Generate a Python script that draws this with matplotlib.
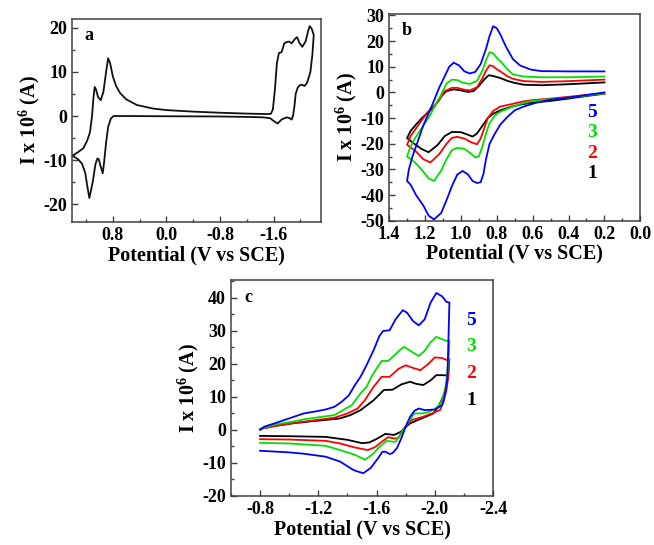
import matplotlib
matplotlib.use("Agg")
import matplotlib.pyplot as plt
from matplotlib.ticker import MultipleLocator

plt.rcParams['font.family'] = ['Liberation Serif', 'DejaVu Serif']
plt.rcParams['font.weight'] = 'bold'
plt.rcParams['axes.unicode_minus'] = False
plt.rcParams['mathtext.fontset'] = 'custom'
plt.rcParams['mathtext.rm'] = 'Liberation Serif:bold'
plt.rcParams['mathtext.it'] = 'Liberation Serif:bold'
plt.rcParams['mathtext.bf'] = 'Liberation Serif:bold'

# ---- panel a: single CV loop ----
a_pot = [1.40, 1.32, 1.24, 1.18, 1.14, 1.11, 1.09, 1.07, 1.05, 1.02, 0.98, 0.94, 0.90, 0.87,
         0.84, 0.80, 0.75, 0.69, 0.60, 0.44, 0.20, 0.0, -0.4, -0.8, -1.2, -1.5, -1.56, -1.59,
         -1.62, -1.65, -1.68, -1.72, -1.76, -1.80, -1.83, -1.87, -1.92, -1.95, -1.99, -2.03,
         -2.08, -2.12, -2.14, -2.17, -2.20,
         -2.18, -2.15, -2.10, -2.06, -2.03, -1.99, -1.96, -1.93, -1.91, -1.89, -1.87, -1.84,
         -1.80, -1.76, -1.72, -1.66, -1.60, -1.55, -1.45, -1.2, -0.8, 0.0, 0.6, 0.79, 0.83,
         0.87, 0.90, 0.93, 0.95, 0.98, 1.01, 1.03, 1.06, 1.10, 1.15, 1.18, 1.21, 1.26, 1.32, 1.40]
a_cur = [-9.0, -8.2, -7.3, -5.5, -3.6, 0.0, 4.0, 6.6, 6.0, 4.3, 3.6, 5.5, 10.0, 13.1,
         12.0, 9.0, 6.8, 5.2, 3.8, 2.5, 1.7, 1.35, 1.0, 0.75, 0.55, 0.45, 0.5, 1.5,
         6.0, 12.0, 14.3, 14.5, 16.5, 16.8, 16.9, 16.5, 17.5, 17.9, 16.5, 15.7,
         17.0, 19.5, 20.4, 19.8, 18.4,
         14.0, 10.0, 7.5, 6.8, 7.1, 7.0, 6.4, 5.0, 2.0, 0.0, -0.8, -0.5,
         -0.3, -0.5, -0.8, -1.7, -1.1, -0.5, -0.3, -0.2, -0.1, -0.05, 0.0, 0.0, -0.6,
         -2.5, -6.0, -10.5, -13.0, -11.5, -9.8, -9.6, -11.0, -15.0, -18.6, -16.0, -13.0, -10.8, -9.8, -9.0]

# ---- panel b: four CVs (labels 5, 3, 2, 1) ----
b_pot_5 = [0.20, 0.30, 0.40, 0.50, 0.58, 0.65, 0.70, 0.74, 0.78, 0.81, 0.84, 0.86, 0.875, 0.89,
           0.91, 0.935, 0.96, 0.99, 1.02, 1.05, 1.08, 1.11, 1.15, 1.18, 1.21, 1.25, 1.28, 1.30,
           1.29, 1.27, 1.24, 1.21, 1.17, 1.14, 1.12, 1.09, 1.065, 1.04, 1.01, 0.98, 0.95, 0.92,
           0.89, 0.86, 0.84, 0.82, 0.80, 0.78, 0.75, 0.71, 0.67, 0.61, 0.55, 0.40, 0.20]
b_cur_5 = [0.0, -1.0, -2.0, -2.8, -4.0, -5.5, -7.0, -9.5, -12.5, -16.0, -20.0, -26.0, -32.0, -35.0,
           -35.3, -34.5, -32.0, -30.6, -32.0, -36.5, -42.0, -47.0, -49.5, -48.0, -44.0, -40.0, -36.0, -34.5,
           -30.0, -25.0, -19.0, -13.0, -6.5, -1.5, 2.0, 6.3, 10.0, 11.6, 10.5, 8.2, 7.4, 8.0,
           11.0, 17.0, 22.0, 25.8, 25.0, 22.6, 18.0, 13.0, 10.5, 8.9, 8.3, 8.2, 8.2]
b_pot_3 = [0.20, 0.30, 0.40, 0.50, 0.60, 0.66, 0.72, 0.78, 0.81, 0.84, 0.86, 0.88, 0.90, 0.92,
           0.95, 0.98, 1.02, 1.05, 1.08, 1.11, 1.15, 1.18, 1.22, 1.26, 1.30,
           1.28, 1.255, 1.21, 1.17, 1.14, 1.11, 1.08, 1.05, 1.02, 0.99, 0.95, 0.91, 0.88, 0.86,
           0.84, 0.82, 0.80, 0.78, 0.74, 0.71, 0.65, 0.55, 0.40, 0.20]
b_cur_3 = [-0.3, -1.2, -2.0, -2.6, -3.3, -4.3, -5.8, -7.5, -9.0, -12.0, -16.0, -21.0, -25.0, -25.3,
           -23.5, -22.0, -21.6, -22.5, -26.0, -30.5, -34.5, -33.5, -30.0, -27.0, -25.0,
           -21.0, -17.8, -13.0, -8.7, -4.5, -0.9, 3.5, 5.0, 4.8, 3.8, 3.3, 4.5, 8.5, 12.5,
           15.7, 15.2, 13.5, 12.2, 9.0, 7.0, 6.2, 5.9, 5.9, 6.2]
b_pot_2 = [0.20, 0.30, 0.40, 0.50, 0.60, 0.66, 0.72, 0.78, 0.82, 0.85, 0.87, 0.89, 0.91, 0.94,
           0.98, 1.02, 1.05, 1.08, 1.12, 1.17, 1.21, 1.25, 1.30,
           1.28, 1.25, 1.21, 1.17, 1.125, 1.09, 1.05, 1.02, 0.98, 0.95, 0.91, 0.88, 0.86, 0.84,
           0.82, 0.80, 0.78, 0.74, 0.71, 0.65, 0.55, 0.40, 0.20]
b_cur_2 = [-0.4, -1.0, -1.7, -2.4, -3.0, -3.6, -4.6, -5.5, -7.2, -10.0, -14.0, -18.0, -20.2, -19.5,
           -18.0, -17.3, -17.7, -20.0, -24.0, -27.3, -26.0, -23.0, -20.4,
           -17.0, -14.0, -10.0, -6.5, -3.5, 0.5, 1.8, 1.8, 1.0, 0.8, 2.0, 5.5, 8.5, 10.6,
           10.2, 9.0, 8.2, 6.3, 5.3, 4.4, 4.1, 4.4, 5.0]
b_pot_1 = [0.20, 0.30, 0.40, 0.50, 0.60, 0.66, 0.72, 0.78, 0.82, 0.85, 0.88, 0.91, 0.935, 0.96,
           1.00, 1.05, 1.09, 1.13, 1.18, 1.22, 1.26, 1.30,
           1.28, 1.25, 1.22, 1.18, 1.15, 1.11, 1.08, 1.04, 1.00, 0.96, 0.93, 0.90, 0.87, 0.845,
           0.82, 0.78, 0.74, 0.70, 0.65, 0.55, 0.40, 0.20]
b_cur_1 = [-0.5, -1.4, -2.4, -3.3, -4.0, -4.6, -5.6, -7.0, -8.3, -10.0, -13.0, -16.0, -17.2, -16.5,
           -15.5, -15.4, -17.0, -20.5, -23.3, -22.0, -20.0, -17.8,
           -15.0, -12.5, -10.2, -7.5, -5.8, -1.5, 0.5, 1.2, 0.8, 0.2, 0.5, 2.5, 5.0, 6.7,
           6.4, 5.6, 4.5, 3.7, 3.0, 2.8, 3.2, 3.9]

# ---- panel c: four CVs (labels 5, 3, 2, 1) ----
c_pot_5 = [-0.80, -0.83, -0.90, -1.00, -1.10, -1.18, -1.25, -1.31, -1.36, -1.41, -1.45, -1.49,
           -1.53, -1.58, -1.62, -1.645, -1.69, -1.73, -1.78, -1.81, -1.85, -1.89, -1.93, -1.97,
           -2.01, -2.05, -2.08, -2.10,
           -2.095, -2.09, -2.085, -2.07, -2.05, -2.00, -1.93, -1.89, -1.86, -1.83, -1.80, -1.77,
           -1.74, -1.71, -1.69, -1.66, -1.64, -1.61, -1.56, -1.51, -1.47, -1.44, -1.35, -1.25,
           -1.10, -1.00, -0.80]
c_cur_5 = [0.0, 1.0, 2.0, 3.5, 5.0, 5.6, 6.2, 7.0, 8.5, 10.5, 13.5, 16.1,
           19.5, 24.2, 28.5, 30.0, 30.2, 33.5, 36.3, 35.5, 33.0, 31.7, 33.5, 38.5,
           41.5, 40.5, 38.8, 38.6,
           30.0, 22.0, 15.1, 11.0, 7.5, 6.2, 6.0, 6.5, 5.8, 4.0, 1.0, -2.5,
           -5.5, -7.0, -7.3, -6.6, -6.6, -8.6, -11.5, -13.1, -12.6, -12.1, -9.6, -8.1,
           -7.2, -6.8, -6.3]
c_pot_3 = [-0.80, -0.85, -0.92, -1.02, -1.10, -1.18, -1.31, -1.35, -1.43, -1.49, -1.53, -1.57,
           -1.60, -1.635, -1.68, -1.72, -1.76, -1.79, -1.83, -1.89, -1.93, -1.97, -2.01, -2.05,
           -2.08, -2.10,
           -2.095, -2.085, -2.07, -2.04, -2.00, -1.95, -1.91, -1.86, -1.82, -1.77, -1.73, -1.70,
           -1.67, -1.62, -1.57, -1.52, -1.45, -1.35, -1.25, -1.00, -0.80]
c_cur_3 = [0.3, 1.0, 1.8, 2.5, 3.2, 3.7, 4.5, 5.5, 7.5, 11.1, 13.0, 16.5,
           18.6, 20.9, 20.9, 22.5, 24.2, 25.2, 24.0, 22.4, 24.0, 26.5, 28.2, 27.5,
           27.0, 27.0,
           22.0, 17.0, 12.1, 8.0, 6.3, 5.3, 5.0, 5.0, 2.5, -1.0, -3.6, -3.5,
           -3.3, -5.1, -7.5, -9.0, -7.5, -6.1, -4.8, -4.1, -3.9]
c_pot_2 = [-0.80, -0.90, -1.02, -1.15, -1.31, -1.40, -1.47, -1.52, -1.58, -1.635, -1.69, -1.75,
           -1.80, -1.85, -1.90, -1.95, -2.00, -2.05, -2.08, -2.10,
           -2.095, -2.08, -2.06, -2.035, -1.98, -1.92, -1.84, -1.81, -1.78, -1.75, -1.72, -1.68,
           -1.635, -1.59, -1.54, -1.45, -1.35, -1.25, -1.00, -0.80]
c_cur_2 = [0.3, 1.2, 2.0, 2.8, 3.7, 5.0, 6.5, 9.0, 13.1, 16.1, 16.1, 18.5,
           19.6, 18.8, 18.1, 19.8, 22.0, 21.8, 21.2, 21.5,
           17.0, 12.1, 8.5, 6.0, 5.0, 4.0, 3.0, 1.5, 0.0, -2.5, -2.6, -2.2,
           -3.6, -5.2, -6.1, -5.3, -4.1, -3.3, -2.9, -2.8]
c_pot_1 = [-0.80, -0.90, -1.02, -1.15, -1.31, -1.35, -1.42, -1.49, -1.58, -1.65, -1.71, -1.77,
           -1.83, -1.87, -1.92, -1.97, -2.01, -2.05, -2.09,
           -2.08, -2.06, -2.03, -1.99, -1.91, -1.83, -1.79, -1.77, -1.72, -1.66, -1.61, -1.55,
           -1.50, -1.40, -1.25, -1.00, -0.80]
c_cur_1 = [0.3, 1.2, 2.0, 2.6, 3.3, 3.5, 4.5, 6.0, 9.0, 12.1, 12.2, 13.8,
           14.6, 14.0, 13.6, 15.0, 16.6, 16.6, 16.5,
           13.5, 10.5, 7.5, 5.0, 3.5, 2.0, 0.5, -0.5, -1.5, -1.2, -2.5, -3.8,
           -4.0, -3.0, -2.1, -1.9, -1.8]

labels = ['5', '3', '2', '1']
colors = ['#0000ff', '#00e000', '#ff0000', '#000000']

fig = plt.figure(figsize=(6.54, 5.45), dpi=100)
ax_a = fig.add_axes([0.110, 0.593, 0.381, 0.372])
ax_b = fig.add_axes([0.595, 0.595, 0.384, 0.379])
ax_c = fig.add_axes([0.353, 0.090, 0.401, 0.396])

def style(ax, xlim, ylim, xmaj, ymaj, letter):
    ax.set_xlim(*xlim)
    ax.set_ylim(*ylim)
    ax.xaxis.set_major_locator(MultipleLocator(xmaj))
    ax.xaxis.set_minor_locator(MultipleLocator(xmaj / 2))
    ax.yaxis.set_major_locator(MultipleLocator(ymaj))
    ax.yaxis.set_minor_locator(MultipleLocator(ymaj / 2))
    ax.tick_params(which='both', direction='in', top=False, right=False,
                   labelsize=13, color='#404040')
    ax.tick_params(which='major', length=4, width=1)
    ax.tick_params(which='minor', length=2.5, width=1)
    for sp in ax.spines.values():
        sp.set_color('#404040')
        sp.set_linewidth(1.1)
    for t in ax.get_xticklabels() + ax.get_yticklabels():
        t.set_fontweight('bold')
    ax.set_xlabel('Potential (V vs SCE)', fontsize=14.5, fontweight='bold', labelpad=1)
    ax.set_ylabel(r'I x 10$^6$ (A)', fontsize=14.5, fontweight='bold', labelpad=1)
    ax.text(0.05, 0.96, letter, transform=ax.transAxes, fontsize=13,
            fontweight='bold', va='top', ha='left')

ax_a.plot(a_pot, a_cur, color='#111111', lw=1.3, solid_joinstyle='round')
style(ax_a, (1.41, -2.31), (-24, 22), 0.8, 10, 'a')

b_series = [(b_pot_5, b_cur_5), (b_pot_3, b_cur_3), (b_pot_2, b_cur_2), (b_pot_1, b_cur_1)]
for (p, c), col in zip(b_series[::-1], colors[::-1]):
    ax_b.plot(p, c, color=col, lw=1.3, solid_joinstyle='round')
style(ax_b, (1.4, 0.0), (-50, 30.5), 0.2, 10, 'b')
for i, (lab, col) in enumerate(zip(labels, colors)):
    ax_b.text(0.27, -7.9 - 7.9 * i, lab, color=col, fontsize=14, fontweight='bold',
              ha='center', va='center')

c_series = [(c_pot_5, c_cur_5), (c_pot_3, c_cur_3), (c_pot_2, c_cur_2), (c_pot_1, c_cur_1)]
for (p, c), col in zip(c_series[::-1], colors[::-1]):
    ax_c.plot(p, c, color=col, lw=1.3, solid_joinstyle='round')
style(ax_c, (-0.6, -2.4), (-20, 45.4), 0.4, 10, 'c')
for i, (lab, col) in enumerate(zip(labels, colors)):
    ax_c.text(-2.252, 33.3 - 8.1 * i, lab, color=col, fontsize=14, fontweight='bold',
              ha='center', va='center')

fig.savefig('out.png', dpi=100)
